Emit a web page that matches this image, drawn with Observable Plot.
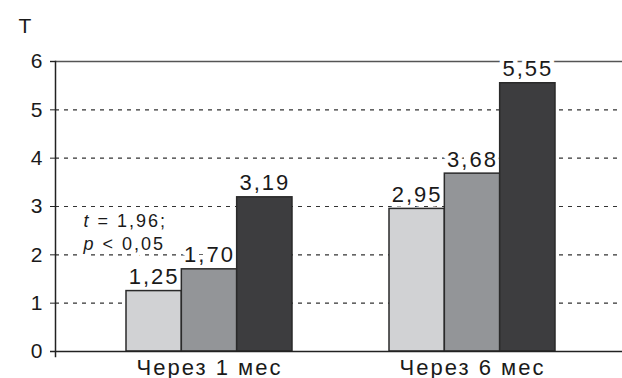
<!DOCTYPE html>
<html><head><meta charset="utf-8">
<script src="https://cdn.jsdelivr.net/npm/d3@7"></script>
<script src="https://cdn.jsdelivr.net/npm/@observablehq/plot@0.6"></script>
<style>body{margin:0;background:#fff;overflow:hidden}</style>
</head><body><div id="chart"></div>
<script>
const categories = ["Через 1 мес", "Через 6 мес"];
const seriesNames = ["Группа 1", "Группа 2", "Группа 3"];
const series1 = [1.25, 2.95];
const series2 = [1.70, 3.68];
const series3 = [3.19, 5.55];
const yTicks = [0, 1, 2, 3, 4, 5, 6];
const annotationLines = ["t = 1,96;", "p < 0,05"];
const yLabel = "T";

const data = [];
[series1, series2, series3].forEach((vals, s) =>
  vals.forEach((v, i) => data.push({cat: categories[i], series: seriesNames[s], s, value: v})));

const colors = ["#d1d2d4", "#939598", "#3d3d3f"];
const bw = 166, barW = bw / 3;
const fmt = v => v.toFixed(2).replace(".", ",");
const font = "'Liberation Sans', Arial, Helvetica, sans-serif";

const valueLabels = (halo) => [0, 1, 2].map(s => Plot.text(data.filter(d => d.s === s), {
  x: "cat", y: "value", text: d => fmt(d.value), dx: (s - 1) * barW, dy: -7,
  lineAnchor: "bottom", fontSize: 22,
  fill: halo ? "white" : "#1a1a1a",
  ...(halo ? {stroke: "white", strokeWidth: 9, strokeLinejoin: "round"} : {})
}));
const annotation = (halo) => Plot.text([annotationLines.join("\n")], {
  x: () => categories[0], y: () => 2.5, text: d => d, textAnchor: "start", dx: -126,
  lineAnchor: "middle", fontSize: 18, lineHeight: 1.28,
  fill: halo ? "white" : "#1a1a1a",
  ...(halo ? {stroke: "white", strokeWidth: 8, strokeLinejoin: "round"} : {})
});

const marks = [
  Plot.ruleY([1, 2, 3, 4, 5], {stroke: "#333", strokeWidth: 1.2, strokeDasharray: "4,5"}),
  Plot.ruleY([6], {stroke: "#555", strokeWidth: 1.6, insetLeft: -5}),
  ...valueLabels(true),
  annotation(true),
  ...[0, 1, 2].map(s => Plot.barY(data.filter(d => d.s === s), {
    x: "cat", y: "value", fill: colors[s], stroke: "#2a2a2a", strokeWidth: 1.5,
    insetLeft: s * barW, insetRight: (2 - s) * barW
  })),
  ...valueLabels(false),
  annotation(false),
  Plot.ruleY([0], {stroke: "#222", strokeWidth: 1.5, insetLeft: -5}),
  Plot.frame({anchor: "left", stroke: "#222", strokeWidth: 1.5, insetBottom: -5}),
  Plot.axisY({ticks: yTicks, tickSize: 5, tickPadding: 6, fontSize: 21, label: null, tickFormat: d => String(d), stroke: "#222"}),
  Plot.axisX({tickSize: 0, tickPadding: 8, fontSize: 22, label: null}),
  Plot.text([yLabel], {frameAnchor: "top-left", dx: -37, dy: -43, lineAnchor: "top", fontSize: 21, fill: "#1a1a1a"})
];

const chart = Plot.plot({
  width: 622, height: 378,
  marginLeft: 55, marginRight: 0, marginTop: 61, marginBottom: 27,
  style: {fontFamily: font, letterSpacing: "2px", color: "#1a1a1a", background: "#fff"},
  x: {domain: categories, range: [77.5, 603.5], paddingInner: 0.369, paddingOuter: 0.1845},
  y: {domain: [0, 6]},
  marks
});
document.getElementById("chart").appendChild(chart);

// italicize the statistic symbols t and p
d3.select(chart).selectAll("tspan").each(function () {
  const t = this.textContent;
  if (t === annotationLines[0] || t === annotationLines[1]) {
    const el = d3.select(this);
    el.text(null);
    el.append("tspan").attr("font-style", "italic").text(t[0]);
    el.append("tspan").text(t.slice(1));
  }
});
</script>
</body></html>
